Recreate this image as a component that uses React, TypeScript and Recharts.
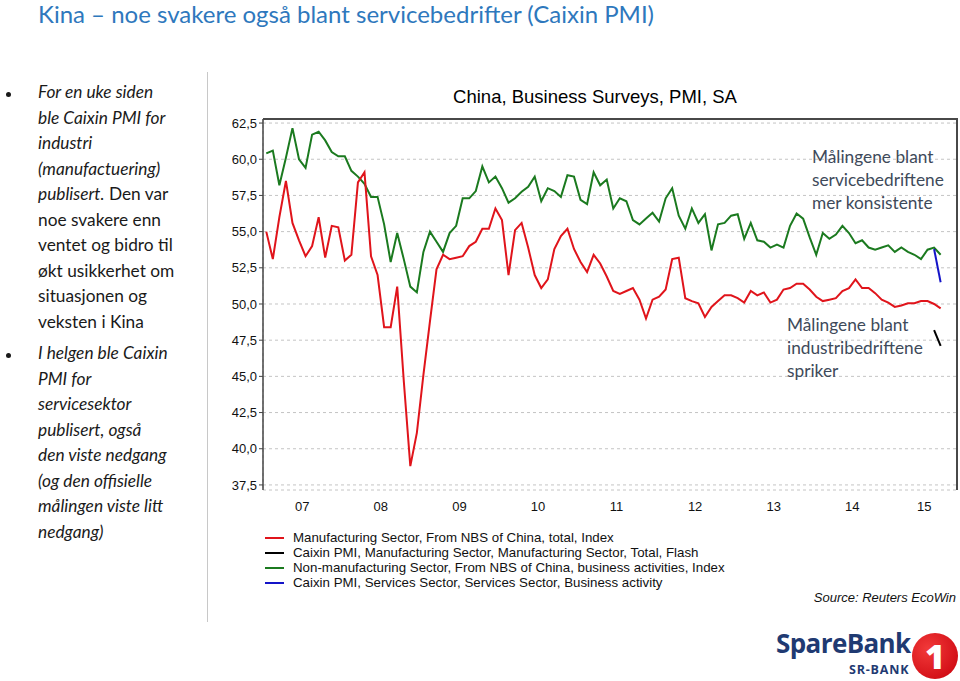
import React from "react";
import { LineChart, Line, XAxis, YAxis, CartesianGrid } from "recharts";

// Monthly values, Jan 2007 - Aug 2015
const MFG = [
  55.0, 53.1, 56.0, 58.5, 55.6, 54.4, 53.3, 54.0, 56.0, 53.2, 55.4, 55.3,
  53.0, 53.4, 58.4, 59.1, 53.3, 52.0, 48.4, 48.4, 51.2, 44.7, 38.8, 41.1,
  45.1, 48.8, 52.4, 53.4, 53.1, 53.2, 53.3, 54.0, 54.3, 55.2, 55.2, 56.6,
  55.8, 52.0, 55.1, 55.6, 53.9, 52.0, 51.1, 51.7, 53.8, 54.7, 55.2, 53.8,
  52.9, 52.2, 53.4, 52.8, 51.9, 50.9, 50.7, 50.9, 51.1, 50.3, 49.0, 50.3,
  50.5, 51.0, 53.1, 53.2, 50.4, 50.2, 50.05, 49.1, 49.8, 50.2, 50.6, 50.6,
  50.4, 50.1, 50.9, 50.6, 50.8, 50.1, 50.3, 51.0, 51.1, 51.4, 51.4, 51.0,
  50.5, 50.2, 50.3, 50.4, 50.9, 51.1, 51.7, 51.1, 51.1, 50.75, 50.3, 50.1,
  49.8, 49.9, 50.05, 50.05, 50.2, 50.2, 50.0, 49.7,
];

const NON_MFG = [
  60.4, 60.6, 58.2, 60.1, 62.15, 60.0, 59.4, 61.7, 61.9, 61.3, 60.5, 60.2,
  60.2, 59.2, 58.8, 58.3, 57.4, 57.4, 55.5, 52.9, 54.9, 53.1, 51.2, 50.8,
  53.6, 55.0, 54.3, 53.6, 54.9, 55.4, 57.3, 57.3, 57.8, 59.5, 58.4, 58.8,
  58.0, 57.0, 57.3, 57.75, 58.1, 58.8, 57.1, 58.0, 57.8, 57.4, 58.9, 58.8,
  57.2, 56.9, 59.1, 58.2, 58.6, 56.6, 57.3, 57.1, 55.8, 55.5, 55.9, 56.3,
  55.7, 57.3, 58.0, 56.1, 55.2, 56.6, 55.6, 56.2, 53.7, 55.5, 55.6, 56.1,
  56.2, 54.5, 55.6, 54.4, 54.3, 53.9, 54.1, 53.9, 55.4, 56.25, 55.9, 54.6,
  53.4, 54.9, 54.5, 54.8, 55.4, 54.9, 54.2, 54.4, 53.9, 53.75, 53.9, 54.05,
  53.6, 53.9, 53.6, 53.4, 53.1, 53.75, 53.9, 53.4,
];

// Jul + Aug 2015 only
const CAIXIN_MFG_FLASH = [48.2, 47.1];
const CAIXIN_SERVICES = [53.8, 51.5];

const YEAR_LABELS = ["07", "08", "09", "10", "11", "12", "13", "14", "15"];
const Y_TICKS = [37.5, 40, 42.5, 45, 47.5, 50, 52.5, 55, 57.5, 60, 62.5];
const X_MAX = 106; // months shown on axis
const Y_MIN = 37.15;
const Y_MAX = 62.78;

const SERIES = [
  { key: "mfg", name: "Manufacturing Sector, From NBS of China, total, Index", color: "#e0141b" },
  { key: "caixinMfg", name: "Caixin PMI, Manufacturing Sector, Manufacturing Sector, Total, Flash", color: "#000000" },
  { key: "nonMfg", name: "Non-manufacturing Sector, From NBS of China, business activities, Index", color: "#1b7a1f" },
  { key: "caixinSvc", name: "Caixin PMI, Services Sector, Services Sector, Business activity", color: "#1414c8" },
];

const caixinStart = MFG.length - CAIXIN_SERVICES.length;
const data = MFG.map((v, i) => ({
  m: i + 0.5,
  mfg: v,
  nonMfg: NON_MFG[i],
  caixinMfg: i >= caixinStart ? CAIXIN_MFG_FLASH[i - caixinStart] : null,
  caixinSvc: i >= caixinStart ? CAIXIN_SERVICES[i - caixinStart] : null,
}));

const yearStarts = YEAR_LABELS.slice(1).map((_, i) => (i + 1) * 12);
const labelPos = YEAR_LABELS.map((_, i) => (i * 12 + Math.min(i * 12 + 12, X_MAX)) / 2);

const BULLETS = [
  [
    [{ t: "For en uke siden", i: true }],
    [{ t: "ble Caixin PMI for", i: true }],
    [{ t: "industri", i: true }],
    [{ t: "(manufactuering)", i: true }],
    [{ t: "publisert.", i: true }, { t: " Den var", i: false }],
    [{ t: "noe svakere enn", i: false }],
    [{ t: "ventet og bidro til", i: false }],
    [{ t: "økt usikkerhet om", i: false }],
    [{ t: "situasjonen og", i: false }],
    [{ t: "veksten i Kina", i: false }],
  ],
  [
    [{ t: "I helgen ble Caixin", i: true }],
    [{ t: "PMI for", i: true }],
    [{ t: "servicesektor", i: true }],
    [{ t: "publisert, også", i: true }],
    [{ t: "den viste nedgang", i: true }],
    [{ t: "(og den offisielle", i: true }],
    [{ t: "målingen viste litt", i: true }],
    [{ t: "nedgang)", i: true }],
  ],
];

const CAL = "Lato, 'Open Sans', sans-serif";
const ARIAL = "'Liberation Sans', Arial, sans-serif";

// chart placement on the slide
const CHART = { left: 205, top: 110, width: 755, height: 410 };
const MARGIN = { top: 9, right: 3, bottom: 5, left: 0 };
const Y_AXIS_W = 58;
const X_AXIS_H = 25;

const App: React.FC = () => {
  const fmt = (v: number) => v.toFixed(1).replace(".", ",");
  const plotW = CHART.width - MARGIN.left - MARGIN.right - Y_AXIS_W;
  const plotH = CHART.height - MARGIN.top - MARGIN.bottom - X_AXIS_H;
  return (
    <div
      style={{
        position: "absolute",
        left: 0,
        top: 0,
        width: 960,
        height: 681,
        background: "#fff",
        overflow: "hidden",
      }}
    >
      <div
        style={{
          position: "absolute",
          left: 38,
          top: -1,
          fontFamily: CAL,
          fontSize: 24,
          color: "#2e78bd",
          whiteSpace: "nowrap",
        }}
      >
        Kina – noe svakere også blant servicebedrifter (Caixin PMI)
      </div>

      {/* left bullet text */}
      {BULLETS.map((b, bi) => {
        const top0 = bi === 0 ? 80 : 341;
        return (
          <div key={bi}>
            <div
              style={{
                position: "absolute",
                left: 6,
                top: top0 + 12,
                width: 5,
                height: 5,
                borderRadius: 3,
                background: "#1a1a1a",
              }}
            />
            {b.map((ln, li) => (
              <div
                key={li}
                style={{
                  position: "absolute",
                  left: 38,
                  top: top0 + li * 25.5,
                  fontFamily: CAL,
                  fontSize: 17.3,
                  color: "#1a1a1a",
                  whiteSpace: "pre",
                  lineHeight: "24px",
                }}
              >
                {ln.map((s, si) => (
                  <span key={si} style={{ fontStyle: s.i ? "italic" : "normal" }}>
                    {s.t}
                  </span>
                ))}
              </div>
            ))}
          </div>
        );
      })}

      <div
        style={{
          position: "absolute",
          left: 207,
          top: 72,
          width: 1,
          height: 550,
          background: "#c8c8c8",
        }}
      />

      <div
        style={{
          position: "absolute",
          left: 300,
          width: 590,
          top: 86,
          textAlign: "center",
          fontFamily: ARIAL,
          fontSize: 18.5,
          color: "#000",
        }}
      >
        China, Business Surveys, PMI, SA
      </div>

      <div style={{ position: "absolute", left: CHART.left, top: CHART.top, width: CHART.width, height: CHART.height }}>
        <LineChart
          width={CHART.width}
          height={CHART.height}
          data={data}
          margin={MARGIN}
        >
          <CartesianGrid
            xAxisId="m"
            yAxisId="v"
            stroke="#c4c4c4"
            strokeDasharray="3 3"
          />
          <XAxis
            xAxisId="m"
            type="number"
            dataKey="m"
            domain={[0, X_MAX]}
            ticks={yearStarts}
            tick={false}
            tickSize={4}
            height={0}
            allowDataOverflow
            axisLine={{ stroke: "#555", strokeWidth: 2 }}
            tickLine={{ stroke: "#555", strokeWidth: 1.5 }}
          />
          <XAxis
            xAxisId="lbl"
            type="number"
            dataKey="m"
            domain={[0, X_MAX]}
            ticks={labelPos}
            interval={0}
            tickFormatter={(v: number) => YEAR_LABELS[labelPos.indexOf(v)] ?? ""}
            axisLine={false}
            tickLine={false}
            tickSize={10}
            tickMargin={2}
            height={X_AXIS_H}
            allowDataOverflow
            tick={{ fill: "#111", fontSize: 13, fontFamily: ARIAL }}
          />
          <YAxis
            yAxisId="v"
            type="number"
            domain={[Y_MIN, Y_MAX]}
            ticks={Y_TICKS}
            interval={0}
            allowDataOverflow
            width={Y_AXIS_W}
            tickSize={4}
            tickMargin={2}
            tickFormatter={fmt}
            axisLine={{ stroke: "#444", strokeWidth: 1.5 }}
            tickLine={{ stroke: "#444" }}
            tick={{ fill: "#111", fontSize: 13, fontFamily: ARIAL }}
          />
          {[SERIES[2], SERIES[0], SERIES[1], SERIES[3]].map((s) => (
            <Line
              key={s.key}
              xAxisId="m"
              yAxisId="v"
              type="linear"
              dataKey={s.key}
              stroke={s.color}
              strokeWidth={2}
              dot={false}
              connectNulls={false}
              isAnimationActive={false}
            />
          ))}
        </LineChart>
        {/* plot frame, top and right edges */}
        <div
          style={{
            position: "absolute",
            left: MARGIN.left + Y_AXIS_W,
            top: MARGIN.top - 1,
            width: plotW + 1,
            height: plotH + 1,
            borderTop: "2px solid #484848",
            borderRight: "2px solid #484848",
            boxSizing: "border-box",
            pointerEvents: "none",
            zIndex: 5,
          }}
        />
      </div>

      {/* annotations */}
      <div
        style={{
          position: "absolute",
          left: 812,
          top: 145,
          fontFamily: CAL,
          fontSize: 17.3,
          lineHeight: "23px",
          color: "#3e4a5a",
        }}
      >
        Målingene blant
        <br />
        servicebedriftene
        <br />
        mer konsistente
      </div>
      <div
        style={{
          position: "absolute",
          left: 787,
          top: 313,
          fontFamily: CAL,
          fontSize: 17.3,
          lineHeight: "23px",
          color: "#3e4a5a",
        }}
      >
        Målingene blant
        <br />
        industribedriftene
        <br />
        spriker
      </div>

      {/* legend */}
      <div style={{ position: "absolute", left: 265, top: 530 }}>
        {SERIES.map((s, i) => (
          <div
            key={s.key}
            style={{
              position: "absolute",
              left: 0,
              top: i * 15,
              height: 15,
              display: "flex",
              alignItems: "center",
              whiteSpace: "nowrap",
            }}
          >
            <div style={{ width: 19, height: 2, background: s.color, marginRight: 9 }} />
            <span style={{ fontFamily: ARIAL, fontSize: 13.3, color: "#111" }}>{s.name}</span>
          </div>
        ))}
      </div>

      <div
        style={{
          position: "absolute",
          right: 4,
          top: 590,
          fontFamily: ARIAL,
          fontSize: 13,
          fontStyle: "italic",
          color: "#111",
        }}
      >
        Source: Reuters EcoWin
      </div>

      {/* logo */}
      <div
        style={{
          position: "absolute",
          left: 776,
          top: 632,
          fontFamily: "'Open Sans', sans-serif",
          fontWeight: 700,
          fontSize: 26,
          lineHeight: "22px",
          color: "#1f3a72",
          letterSpacing: -0.6,
        }}
      >
        SpareBank
      </div>
      <div
        style={{
          position: "absolute",
          left: 849,
          top: 664,
          fontFamily: "'Open Sans', sans-serif",
          fontWeight: 700,
          fontSize: 12.5,
          lineHeight: "12px",
          color: "#1f3a72",
          letterSpacing: 0.8,
        }}
      >
        SR-BANK
      </div>
      <div
        style={{
          position: "absolute",
          left: 912,
          top: 633,
          width: 46,
          height: 46,
          borderRadius: 23,
          background: "radial-gradient(circle at 35% 35%, #f23a3a, #c8000a)",
          color: "#fff",
          fontFamily: "'Open Sans', sans-serif",
          fontWeight: 800,
          fontSize: 34,
          lineHeight: "46px",
          textAlign: "center",
        }}
      >
        1
      </div>
    </div>
  );
};

export default App;
